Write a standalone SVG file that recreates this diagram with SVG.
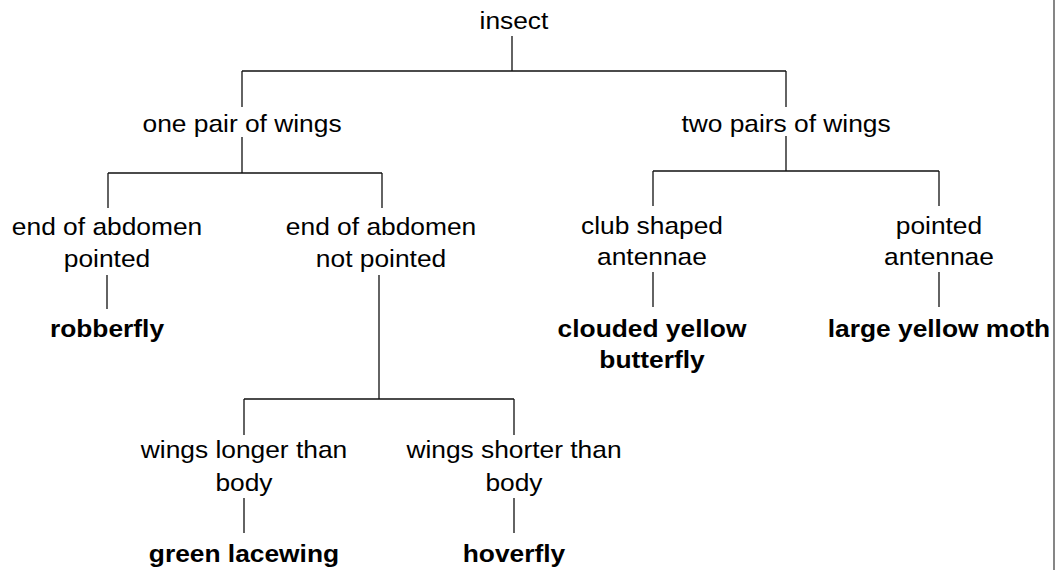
<svg xmlns="http://www.w3.org/2000/svg" width="1056" height="570" viewBox="0 0 1056 570">
<style>
.t{font-family:"Liberation Sans",Arial,sans-serif;font-size:24.4px;fill:#000;text-anchor:middle}
.b{font-weight:bold}
.c{stroke:#111;stroke-width:1.3;fill:none}
</style>
<rect width="1056" height="570" fill="#fff"/>
<g id="connectors" class="c">
<path d="M512,36V71M242,71H786M242,71V107M786,71V107"/>
<path d="M242,137V173M108,173H382M108,173V208M382,173V208"/>
<path d="M786,136V171M653,171H939M653,171V206M939,171V206"/>
<path d="M107,275V309M653,272V307M939,272V307"/>
<path d="M379,275V399M244,399H514M244,399V435M514,399V435"/>
<path d="M244,498V533M514,498V533"/>
<path d="M1054,0V570" stroke="#444"/>
</g>
<g transform="scale(1.08,1)">
<g id="n-insect"><text class="t" x="475.9" y="29">insect</text></g>
<g id="n-one-pair"><text class="t" x="224.1" y="132">one pair of wings</text></g>
<g id="n-two-pairs"><text class="t" x="727.8" y="132">two pairs of wings</text></g>
<g id="n-abd-pointed"><text class="t" x="99.1" y="235">end of abdomen</text><text class="t" x="99.1" y="267">pointed</text></g>
<g id="n-abd-not-pointed"><text class="t" x="352.8" y="235">end of abdomen</text><text class="t" x="352.8" y="267">not pointed</text></g>
<g id="n-robberfly"><text class="t b" x="99.1" y="337">robberfly</text></g>
<g id="n-club"><text class="t" x="603.7" y="234">club shaped</text><text class="t" x="603.7" y="265">antennae</text></g>
<g id="n-pointed-ant"><text class="t" x="869.4" y="234">pointed</text><text class="t" x="869.4" y="265">antennae</text></g>
<g id="n-clouded"><text class="t b" x="603.7" y="337">clouded yellow</text><text class="t b" x="603.7" y="368">butterfly</text></g>
<g id="n-moth"><text class="t b" x="869.4" y="337">large yellow moth</text></g>
<g id="n-longer"><text class="t" x="225.9" y="458">wings longer than</text><text class="t" x="225.9" y="491">body</text></g>
<g id="n-shorter"><text class="t" x="475.9" y="458">wings shorter than</text><text class="t" x="475.9" y="491">body</text></g>
<g id="n-lacewing"><text class="t b" x="225.9" y="562">green lacewing</text></g>
<g id="n-hoverfly"><text class="t b" x="475.9" y="562">hoverfly</text></g>
</g>
</svg>
